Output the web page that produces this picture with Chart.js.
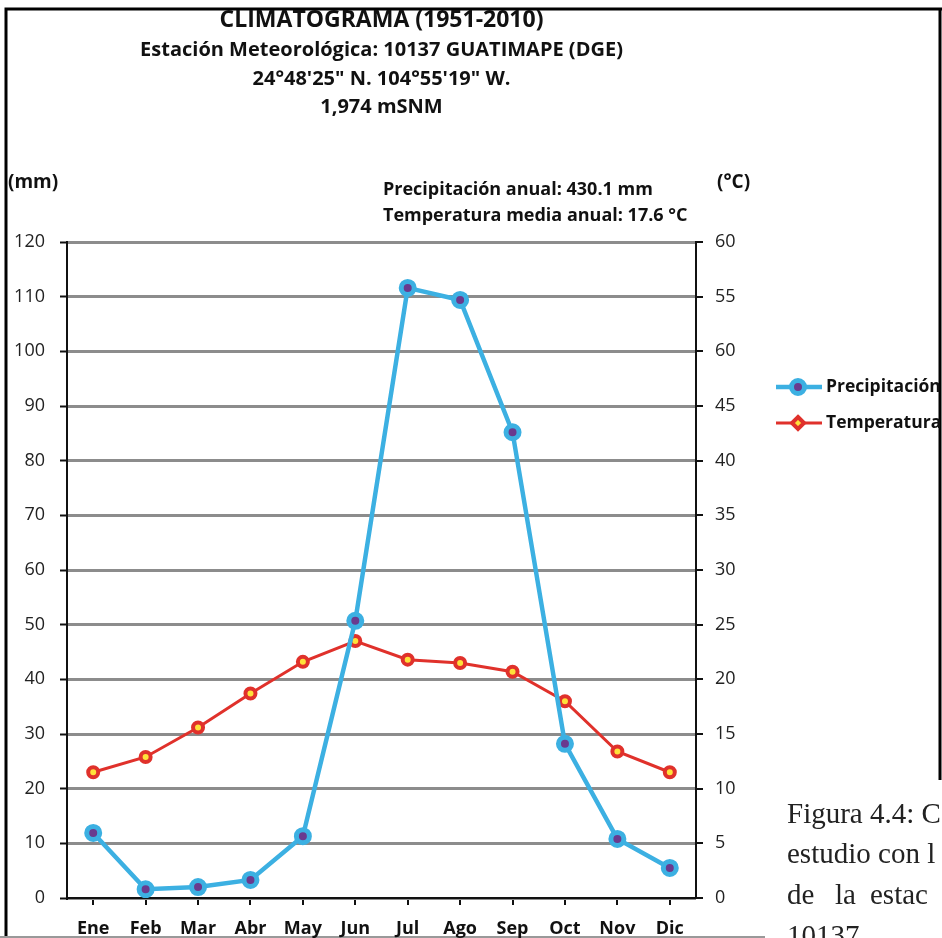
<!DOCTYPE html>
<html>
<head>
<meta charset="utf-8">
<script src="https://cdn.jsdelivr.net/npm/chart.js@4.4.0/dist/chart.umd.min.js"></script>
<style>
  html, body { margin: 0; padding: 0; background: #fff; overflow: hidden; }
  #grafica { position: absolute; left: 0; top: 0; }
</style>
</head>
<body>
<canvas id="grafica" width="942" height="938"></canvas>
<script>
// datos del climatograma
const meses = ["Ene", "Feb", "Mar", "Abr", "May", "Jun", "Jul", "Ago", "Sep", "Oct", "Nov", "Dic"];
const precipitacion = [11.9, 1.6, 2.0, 3.3, 11.3, 50.7, 111.6, 109.4, 85.2, 28.2, 10.8, 5.5];
const temperatura = [11.5, 12.9, 15.6, 18.7, 21.6, 23.5, 21.8, 21.5, 20.7, 18.0, 13.4, 11.5];
// etiquetas del eje derecho tal cual aparecen (el 50 sale como 60)
const etiquetasTemp = ["0", "5", "10", "15", "20", "25", "30", "35", "40", "45", "60", "55", "60"];
const titulos = ["CLIMATOGRAMA (1951-2010)", "Estación Meteorológica: 10137 GUATIMAPE (DGE)", "24°48'25\" N. 104°55'19\" W.", "1,974 mSNM"];

const azul = '#3cb0e2';
const rojo = '#e0312b';
const calibri = "'Open Sans', 'Liberation Sans', sans-serif";

const textos = {
  id: 'textos',
  beforeDraw(chart) {
    const c = chart.ctx;
    c.save();
    c.fillStyle = '#fff';
    c.fillRect(0, 0, chart.width, chart.height);
    // marco
    c.strokeStyle = '#000';
    c.lineWidth = 3;
    c.beginPath();
    c.moveTo(6, 938); c.lineTo(6, 9); c.lineTo(942, 9);
    c.moveTo(940, 9); c.lineTo(940, 780);
    c.stroke();
    c.strokeStyle = '#999';
    c.lineWidth = 2;
    c.beginPath(); c.moveTo(0, 937); c.lineTo(765, 937); c.stroke();
    c.restore();
  },
  afterDraw(chart) {
    const c = chart.ctx;
    const a = chart.chartArea;
    const cx = (a.left + a.right) / 2;
    c.save();
    c.fillStyle = '#111';
    c.textAlign = 'center';
    c.textBaseline = 'middle';
    c.font = "bold 23px " + calibri;
    c.fillText(titulos[0], cx, 20);
    c.font = "bold 20px " + calibri;
    c.fillText(titulos[1], cx, 50);
    c.fillText(titulos[2], cx, 79);
    c.fillText(titulos[3], cx, 107);

    c.textAlign = 'left';
    c.font = "bold 19px " + calibri;
    c.fillText("(mm)", 8, 183);
    c.fillText("(°C)", 717, 183);
    c.font = "bold 18px " + calibri;
    c.fillText("Precipitación anual: 430.1 mm", 383, 190);
    c.fillText("Temperatura media anual: 17.6 °C", 383, 216);

    // leyenda
    const filas = [
      { y: 387, ds: chart.data.datasets[0] },
      { y: 423, ds: chart.data.datasets[1] }
    ];
    filas.forEach(f => {
      c.strokeStyle = f.ds.borderColor;
      c.lineWidth = f.ds.borderWidth;
      c.beginPath(); c.moveTo(776, f.y); c.lineTo(822, f.y); c.stroke();
      c.fillStyle = f.ds.pointBackgroundColor;
      c.strokeStyle = f.ds.pointBorderColor;
      c.lineWidth = f.ds.pointBorderWidth;
      c.beginPath();
      if (f.ds.label === 'Precipitación') {
        c.arc(798, f.y, f.ds.pointRadius, 0, Math.PI * 2);
      } else {
        const r = f.ds.pointRadius + 1;
        c.moveTo(798, f.y - r); c.lineTo(798 + r, f.y); c.lineTo(798, f.y + r); c.lineTo(798 - r, f.y); c.closePath();
      }
      c.fill(); c.stroke();
      c.fillStyle = '#111';
      c.font = "bold 17.5px " + calibri;
      c.fillText(f.ds.label, 826, f.y);
    });

    // pie de figura del documento (cortado en el borde)
    c.font = "29px 'Liberation Serif', serif";
    c.fillStyle = '#222';
    c.textBaseline = 'alphabetic';
    c.fillText("Figura 4.4: C", 787, 823);
    c.fillText("estudio con l", 787, 863);
    c.fillText("de", 787, 904);
    c.fillText("la", 835, 904);
    c.fillText("estac", 870, 904);
    c.fillText("10137", 787, 945);
    c.restore();
  }
};

new Chart(document.getElementById('grafica'), {
  type: 'line',
  data: {
    labels: meses,
    datasets: [{
      label: 'Precipitación',
      data: precipitacion,
      yAxisID: 'y',
      borderColor: azul,
      borderWidth: 4.5,
      pointStyle: 'circle',
      pointRadius: 6.5,
      pointBackgroundColor: '#6a3a8e',
      pointBorderColor: azul,
      pointBorderWidth: 5,
      tension: 0
    }, {
      label: 'Temperatura',
      data: temperatura,
      yAxisID: 'y1',
      borderColor: rojo,
      borderWidth: 3,
      pointStyle: 'circle',
      pointRadius: 5,
      pointBackgroundColor: '#ffe23a',
      pointBorderColor: rojo,
      pointBorderWidth: 4,
      tension: 0
    }]
  },
  options: {
    responsive: false,
    animation: false,
    layout: { padding: { top: 242, left: 0, right: 186, bottom: 0 } },
    plugins: {
      legend: { display: false },
      title: { display: false },
      tooltip: { enabled: false }
    },
    scales: {
      x: {
        offset: true,
        grid: { drawOnChartArea: false, color: '#111', lineWidth: 2, tickLength: 7 },
        border: { color: '#111', width: 2 },
        ticks: { color: '#111', font: { family: calibri, size: 18, weight: 'bold' }, padding: 13 },
        afterFit(s) { s.height = 40; }
      },
      y: {
        position: 'left',
        min: 0, max: 120,
        ticks: { stepSize: 10, color: '#222', font: { family: calibri, size: 18 }, padding: 15 },
        grid: { color: '#8c8c8c', lineWidth: 3, tickColor: '#111', tickWidth: 2, tickLength: 7 },
        border: { color: '#111', width: 2 },
        afterFit(s) { s.width = 67; }
      },
      y1: {
        position: 'right',
        min: 0, max: 60,
        ticks: {
          stepSize: 5, color: '#222', font: { family: calibri, size: 18 }, padding: 12,
          callback: (v, i) => etiquetasTemp[i]
        },
        grid: { drawOnChartArea: false, color: '#111', lineWidth: 2, tickLength: 7 },
        border: { color: '#111', width: 2 },
        afterFit(s) { s.width = 60; }
      }
    }
  },
  plugins: [textos]
});
</script>
</body>
</html>
